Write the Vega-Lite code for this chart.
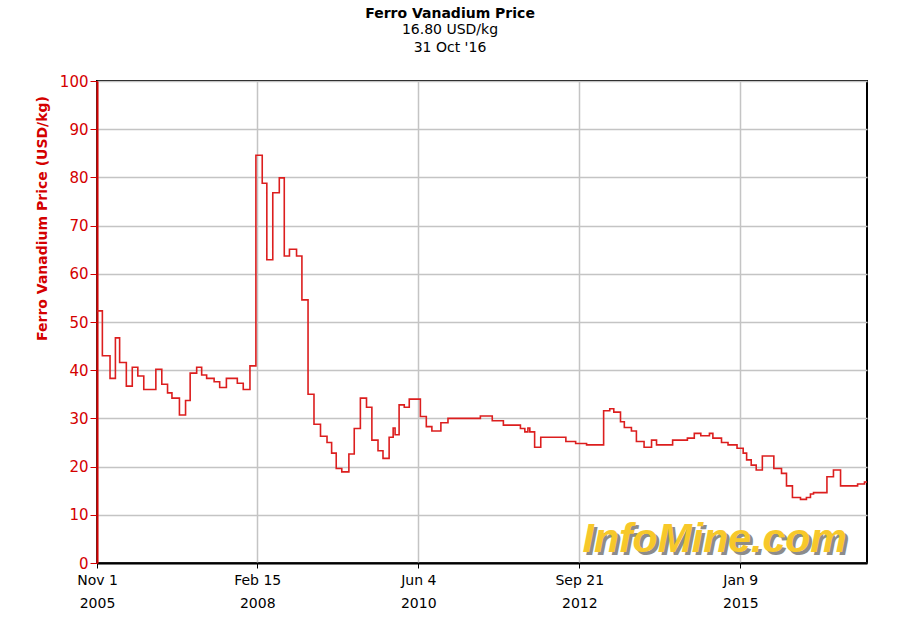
{
  "$schema": "https://vega.github.io/schema/vega-lite/v6.json",
  "width": 770,
  "height": 482,
  "autosize": "none",
  "padding": {"left": 97, "top": 81, "right": 33, "bottom": 80},
  "background": "white",
  "title": {
    "text": "Ferro Vanadium Price",
    "subtitle": ["16.80 USD/kg", "31 Oct '16"],
    "anchor": "middle",
    "dx": -32,
    "offset": 19,
    "font": "DejaVu Sans",
    "fontSize": 14,
    "fontWeight": "bold",
    "color": "black",
    "subtitleFont": "DejaVu Sans",
    "subtitleFontSize": 14,
    "subtitleColor": "black",
    "subtitleLineHeight": 18,
    "subtitlePadding": 2
  },
  "config": {
    "view": {"stroke": "black", "strokeWidth": 2},
    "axis": {"labelFont": "DejaVu Sans", "titleFont": "DejaVu Sans", "gridColor": "#c4c4c4", "gridWidth": 1.5, "gridOpacity": 1}
  },
  "datasets": {
    "price": [
      {"date": "2005-11-01", "price": 52.3},
      {"date": "2005-11-29", "price": 43.0},
      {"date": "2006-01-08", "price": 38.3},
      {"date": "2006-02-05", "price": 46.7},
      {"date": "2006-02-27", "price": 41.6},
      {"date": "2006-04-03", "price": 36.7},
      {"date": "2006-05-04", "price": 40.6},
      {"date": "2006-06-02", "price": 38.8},
      {"date": "2006-07-03", "price": 36.0},
      {"date": "2006-09-04", "price": 40.2},
      {"date": "2006-10-05", "price": 37.1},
      {"date": "2006-11-04", "price": 35.3},
      {"date": "2006-11-27", "price": 34.2},
      {"date": "2007-01-05", "price": 30.7},
      {"date": "2007-02-06", "price": 33.7},
      {"date": "2007-03-02", "price": 39.4},
      {"date": "2007-04-05", "price": 40.6},
      {"date": "2007-05-01", "price": 39.0},
      {"date": "2007-05-27", "price": 38.3},
      {"date": "2007-07-05", "price": 37.6},
      {"date": "2007-08-03", "price": 36.4},
      {"date": "2007-09-07", "price": 38.3},
      {"date": "2007-11-03", "price": 37.3},
      {"date": "2007-12-04", "price": 36.0},
      {"date": "2008-01-08", "price": 40.9},
      {"date": "2008-02-08", "price": 84.6},
      {"date": "2008-03-12", "price": 78.8},
      {"date": "2008-04-05", "price": 62.9},
      {"date": "2008-05-06", "price": 76.8},
      {"date": "2008-06-09", "price": 79.9},
      {"date": "2008-07-05", "price": 63.7},
      {"date": "2008-08-01", "price": 65.1},
      {"date": "2008-09-07", "price": 63.7},
      {"date": "2008-10-05", "price": 54.6},
      {"date": "2008-11-06", "price": 35.0},
      {"date": "2008-12-07", "price": 28.8},
      {"date": "2009-01-10", "price": 26.3},
      {"date": "2009-02-13", "price": 25.0},
      {"date": "2009-03-09", "price": 22.8},
      {"date": "2009-04-02", "price": 19.6},
      {"date": "2009-05-01", "price": 18.9},
      {"date": "2009-06-07", "price": 22.6},
      {"date": "2009-07-05", "price": 27.9},
      {"date": "2009-08-06", "price": 34.2},
      {"date": "2009-09-07", "price": 32.3},
      {"date": "2009-10-05", "price": 25.5},
      {"date": "2009-11-06", "price": 23.3},
      {"date": "2009-12-02", "price": 21.7},
      {"date": "2010-01-03", "price": 26.1},
      {"date": "2010-01-24", "price": 28.0},
      {"date": "2010-02-03", "price": 26.6},
      {"date": "2010-02-24", "price": 32.8},
      {"date": "2010-03-23", "price": 32.3},
      {"date": "2010-04-18", "price": 34.0},
      {"date": "2010-06-15", "price": 30.4},
      {"date": "2010-07-16", "price": 28.3},
      {"date": "2010-08-14", "price": 27.4},
      {"date": "2010-09-30", "price": 29.1},
      {"date": "2010-11-06", "price": 30.0},
      {"date": "2011-04-24", "price": 30.5},
      {"date": "2011-06-25", "price": 29.5},
      {"date": "2011-08-22", "price": 28.6},
      {"date": "2011-11-19", "price": 27.9},
      {"date": "2011-12-12", "price": 27.2},
      {"date": "2011-12-28", "price": 28.0},
      {"date": "2012-01-07", "price": 27.2},
      {"date": "2012-02-01", "price": 24.0},
      {"date": "2012-03-04", "price": 26.1},
      {"date": "2012-07-13", "price": 25.2},
      {"date": "2012-09-02", "price": 24.8},
      {"date": "2012-10-29", "price": 24.5},
      {"date": "2013-01-26", "price": 31.6},
      {"date": "2013-02-27", "price": 32.0},
      {"date": "2013-03-20", "price": 31.3},
      {"date": "2013-04-24", "price": 29.3},
      {"date": "2013-05-14", "price": 28.1},
      {"date": "2013-06-20", "price": 27.4},
      {"date": "2013-07-16", "price": 25.2},
      {"date": "2013-08-25", "price": 24.0},
      {"date": "2013-10-03", "price": 25.5},
      {"date": "2013-10-29", "price": 24.5},
      {"date": "2014-01-21", "price": 25.5},
      {"date": "2014-04-08", "price": 25.9},
      {"date": "2014-05-14", "price": 26.9},
      {"date": "2014-06-17", "price": 26.4},
      {"date": "2014-08-01", "price": 26.9},
      {"date": "2014-08-19", "price": 25.9},
      {"date": "2014-10-03", "price": 25.0},
      {"date": "2014-11-06", "price": 24.5},
      {"date": "2014-12-23", "price": 23.8},
      {"date": "2015-01-24", "price": 22.8},
      {"date": "2015-02-11", "price": 21.4},
      {"date": "2015-03-07", "price": 20.3},
      {"date": "2015-04-02", "price": 19.3},
      {"date": "2015-05-04", "price": 22.2},
      {"date": "2015-07-03", "price": 19.6},
      {"date": "2015-08-12", "price": 18.6},
      {"date": "2015-09-07", "price": 16.0},
      {"date": "2015-10-08", "price": 13.6},
      {"date": "2015-11-19", "price": 13.2},
      {"date": "2015-12-20", "price": 13.6},
      {"date": "2016-01-10", "price": 14.3},
      {"date": "2016-01-26", "price": 14.6},
      {"date": "2016-04-05", "price": 17.9},
      {"date": "2016-05-09", "price": 19.3},
      {"date": "2016-06-15", "price": 16.0},
      {"date": "2016-09-12", "price": 16.4},
      {"date": "2016-10-18", "price": 16.8},
      {"date": "2016-10-31", "price": 16.8}
    ],
    "brand": [{"date": "2014-08-28", "price": 4.8, "label": "InfoMine.com"}]
  },
  "layer": [
    {
      "data": {"name": "price"},
      "mark": {"type": "line", "interpolate": "step-after", "color": "#dc1e1e", "strokeWidth": 1.6, "clip": true},
      "encoding": {
        "x": {
          "field": "date",
          "type": "temporal",
          "scale": {"type": "utc", "domain": [{"year": 2005, "month": 11, "date": 1, "utc": true}, {"year": 2016, "month": 10, "date": 31, "utc": true}]},
          "axis": {
            "title": null,
            "values": [
              {"year": 2005, "month": 11, "date": 1, "utc": true},
              {"year": 2008, "month": 2, "date": 15, "utc": true},
              {"year": 2010, "month": 6, "date": 4, "utc": true},
              {"year": 2012, "month": 9, "date": 21, "utc": true},
              {"year": 2015, "month": 1, "date": 9, "utc": true}
            ],
            "labelExpr": "[utcFormat(datum.value, '%b %-d'), utcFormat(datum.value, '%Y')]",
            "labelFontSize": 14,
            "labelColor": "black",
            "labelLineHeight": 23,
            "labelPadding": 5,
            "labelBaseline": "top",
            "labelFlush": false,
            "labelOverlap": false,
            "tickColor": "black",
            "tickSize": 5,
            "domainColor": "black",
            "domainWidth": 2,
            "grid": true
          }
        },
        "y": {
          "field": "price",
          "type": "quantitative",
          "scale": {"domain": [0, 100], "nice": false, "zero": true},
          "axis": {
            "title": "Ferro Vanadium Price (USD/kg)",
            "titleColor": "#d40000",
            "titleFontSize": 14,
            "titleFontWeight": "bold",
            "titleX": -55,
            "titleY": 137,
            "titleAngle": 270,
            "titleAlign": "center",
            "titleBaseline": "middle",
            "values": [0, 10, 20, 30, 40, 50, 60, 70, 80, 90, 100],
            "labelColor": "#d40000",
            "labelFontSize": 15,
            "labelPadding": 2,
            "tickColor": "#d40000",
            "tickSize": 7,
            "domainColor": "#d40000",
            "domainWidth": 2,
            "grid": true
          }
        }
      }
    },
    {
      "data": {"name": "brand"},
      "mark": {"type": "text", "font": "Liberation Sans", "fontSize": 41, "fontWeight": "bold", "fontStyle": "italic", "color": "#8c8c8c", "dx": 3, "dy": 3, "align": "center", "baseline": "middle"},
      "encoding": {
        "x": {"field": "date", "type": "temporal"},
        "y": {"field": "price", "type": "quantitative"},
        "text": {"field": "label"}
      }
    },
    {
      "data": {"name": "brand"},
      "mark": {"type": "text", "font": "Liberation Sans", "fontSize": 41, "fontWeight": "bold", "fontStyle": "italic", "color": "#f7c82a", "align": "center", "baseline": "middle"},
      "encoding": {
        "x": {"field": "date", "type": "temporal"},
        "y": {"field": "price", "type": "quantitative"},
        "text": {"field": "label"}
      }
    }
  ]
}
